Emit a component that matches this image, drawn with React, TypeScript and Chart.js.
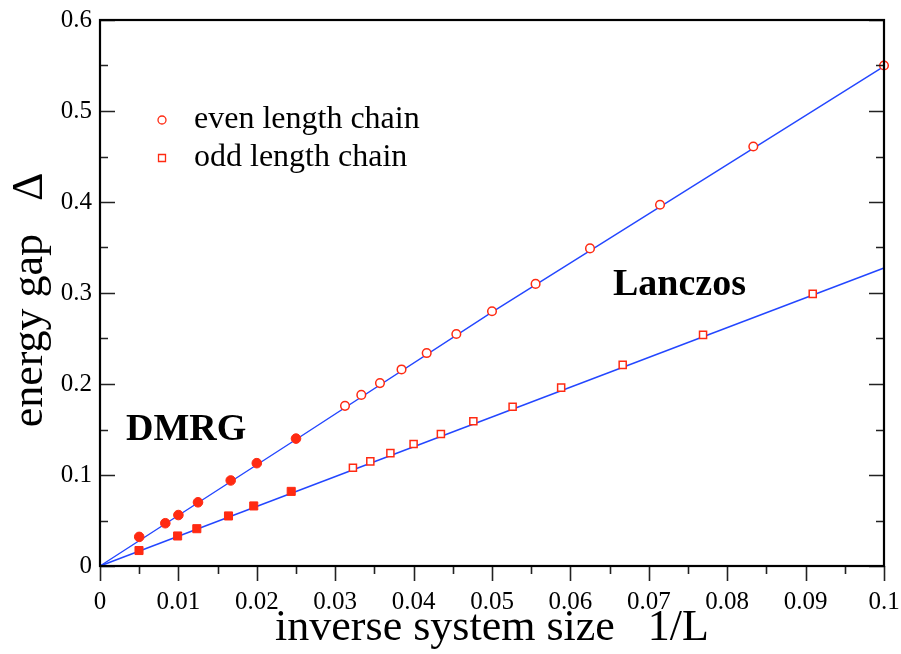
import { useEffect, useRef } from "react";
import { Chart, registerables } from "chart.js";
Chart.register(...registerables);

// Lanczos, even chains L = 10..32 (1/L, gap)
const evenLanczosX = [0.1, 0.08333, 0.07143, 0.0625, 0.05556, 0.05, 0.04545, 0.04167, 0.03846, 0.03571, 0.03333, 0.03125];
const evenLanczosY = [0.55, 0.461, 0.397, 0.349, 0.31, 0.28, 0.255, 0.234, 0.216, 0.201, 0.188, 0.176];
// DMRG, even chains
const evenDmrgX = [0.025, 0.02, 0.01667, 0.0125, 0.01, 0.00833, 0.005];
const evenDmrgY = [0.14, 0.113, 0.094, 0.07, 0.056, 0.047, 0.032];
// Lanczos, odd chains L = 11..31
const oddLanczosX = [0.09091, 0.07692, 0.06667, 0.05882, 0.05263, 0.04762, 0.04348, 0.04, 0.03704, 0.03448, 0.03226];
const oddLanczosY = [0.299, 0.254, 0.221, 0.196, 0.175, 0.159, 0.145, 0.134, 0.124, 0.115, 0.108];
// DMRG, odd chains
const oddDmrgX = [0.02439, 0.01961, 0.01639, 0.01235, 0.0099, 0.004975];
const oddDmrgY = [0.082, 0.066, 0.055, 0.041, 0.033, 0.017];
// fitted lines
const evenFitX = [0, 0.025, 0.05, 0.1];
const evenFitY = [0, 0.139, 0.279, 0.549];
const oddFitX = [0, 0.1];
const oddFitY = [0, 0.3275];

const xTicks = [0, 0.01, 0.02, 0.03, 0.04, 0.05, 0.06, 0.07, 0.08, 0.09, 0.1];
const yTicks = [0, 0.1, 0.2, 0.3, 0.4, 0.5, 0.6];

const RED = "rgb(255,42,18)";
const BLUE = "rgb(35,70,255)";
const SERIF = "'Liberation Serif', 'DejaVu Serif', serif";

const pts = (xs: number[], ys: number[]) => xs.map((x, i) => ({ x, y: ys[i] }));

const fmt = (v: number) => String(Number(v.toFixed(3)));

const decorPlugin = {
  id: "decor",
  afterDraw(chart: any) {
    const { ctx, chartArea: a, scales } = chart;
    const xs = scales.x;
    const ys = scales.y;
    ctx.save();
    // ticks
    ctx.strokeStyle = "#222";
    ctx.lineWidth = 1.6;
    ctx.beginPath();
    for (let i = 0; i <= 20; i++) {
      const v = i * 0.005;
      const px = Math.round(xs.getPixelForValue(v)) + 0.5;
      const len = i % 2 === 0 ? 15 : 8;
      ctx.moveTo(px, a.bottom);
      ctx.lineTo(px, a.bottom + len);
    }
    for (let i = 0; i <= 12; i++) {
      const v = i * 0.05;
      const py = Math.round(ys.getPixelForValue(v)) + 0.5;
      const len = i % 2 === 0 ? 15 : 8;
      ctx.moveTo(a.left, py);
      ctx.lineTo(a.left + len, py);
      ctx.moveTo(a.right, py);
      ctx.lineTo(a.right - len, py);
    }
    ctx.stroke();
    // frame
    ctx.strokeStyle = "#000";
    ctx.lineWidth = 2.2;
    ctx.strokeRect(a.left, a.top, a.right - a.left, a.bottom - a.top);

    // legend
    ctx.strokeStyle = RED;
    ctx.lineWidth = 1.3;
    ctx.fillStyle = "#fff";
    ctx.beginPath();
    ctx.arc(162, 120, 4, 0, Math.PI * 2);
    ctx.fill();
    ctx.stroke();
    ctx.beginPath();
    ctx.rect(158.5, 154.5, 7, 7);
    ctx.fill();
    ctx.stroke();

    ctx.fillStyle = "#000";
    ctx.textBaseline = "alphabetic";
    ctx.textAlign = "left";
    ctx.font = `32px ${SERIF}`;
    ctx.fillText("even length chain", 194, 128);
    ctx.fillText("odd length chain", 194, 166);

    ctx.font = `bold 38px ${SERIF}`;
    ctx.fillText("DMRG", 126, 440);
    ctx.fillText("Lanczos", 613, 295);

    // axis titles
    ctx.font = `44px ${SERIF}`;
    ctx.textAlign = "center";
    ctx.fillText("inverse system size   1/L", 492, 640);
    ctx.save();
    ctx.translate(42, 300);
    ctx.rotate(-Math.PI / 2);
    ctx.fillText("energy gap   \u0394", 0, 0);
    ctx.restore();
    ctx.restore();
  },
};

export default function App() {
  const ref = useRef<HTMLCanvasElement | null>(null);
  useEffect(() => {
    if (!ref.current) return;
    const chart = new Chart(ref.current, {
      type: "scatter",
      data: {
        datasets: [
          {
            label: "even fit",
            data: pts(evenFitX, evenFitY),
            showLine: true,
            borderColor: BLUE,
            borderWidth: 1.4,
            pointRadius: 0,
            order: 3,
            clip: false,
          },
          {
            label: "odd fit",
            data: pts(oddFitX, oddFitY),
            showLine: true,
            borderColor: BLUE,
            borderWidth: 1.4,
            pointRadius: 0,
            order: 3,
            clip: false,
          },
          {
            label: "even length chain",
            data: pts(evenLanczosX, evenLanczosY),
            pointStyle: "circle",
            pointRadius: 4.3,
            pointBorderWidth: 1.5,
            pointBorderColor: RED,
            pointBackgroundColor: "#fff",
            order: 1,
            clip: false,
          },
          {
            label: "even DMRG",
            data: pts(evenDmrgX, evenDmrgY),
            pointStyle: "circle",
            pointRadius: 4.8,
            pointBorderWidth: 1,
            pointBorderColor: RED,
            pointBackgroundColor: RED,
            order: 1,
            clip: false,
          },
          {
            label: "odd length chain",
            data: pts(oddLanczosX, oddLanczosY),
            pointStyle: "rect",
            pointRadius: 5,
            pointBorderWidth: 1.5,
            pointBorderColor: RED,
            pointBackgroundColor: "#fff",
            order: 1,
            clip: false,
          },
          {
            label: "odd DMRG",
            data: pts(oddDmrgX, oddDmrgY),
            pointStyle: "rect",
            pointRadius: 5.7,
            pointBorderWidth: 1,
            pointBorderColor: RED,
            pointBackgroundColor: RED,
            order: 1,
            clip: false,
          },
        ],
      },
      options: {
        animation: false,
        responsive: false,
        layout: { padding: { left: 0, right: 17, top: 20, bottom: 0 } },
        plugins: { legend: { display: false }, tooltip: { enabled: false } },
        scales: {
          x: {
            type: "linear",
            min: 0,
            max: 0.1,
            afterFit: (s: any) => {
              s.height = 88;
              s.paddingLeft = 0;
              s.paddingRight = 0;
            },
            afterBuildTicks: (s: any) => {
              s.ticks = xTicks.map((v) => ({ value: v }));
            },
            grid: { display: false, drawTicks: false },
            border: { display: false },
            ticks: {
              padding: 21,
              color: "#000",
              font: { family: SERIF, size: 25 },
              maxRotation: 0,
              autoSkip: false,
              callback: (v: any) => fmt(Number(v)),
            },
          },
          y: {
            type: "linear",
            min: 0,
            max: 0.6,
            afterFit: (s: any) => {
              s.width = 100;
              s.paddingTop = 0;
              s.paddingBottom = 0;
            },
            afterBuildTicks: (s: any) => {
              s.ticks = yTicks.map((v) => ({ value: v }));
            },
            grid: { display: false, drawTicks: false },
            border: { display: false },
            ticks: {
              padding: 8,
              color: "#000",
              font: { family: SERIF, size: 25 },
              autoSkip: false,
              callback: (v: any) => fmt(Number(v)),
            },
          },
        },
      },
      plugins: [decorPlugin],
    });
    return () => chart.destroy();
  }, []);
  return (
    <div style={{ position: "absolute", left: 0, top: 0, width: 901, height: 654, background: "#fff" }}>
      <canvas ref={ref} width={901} height={654} style={{ display: "block" }} />
    </div>
  );
}
